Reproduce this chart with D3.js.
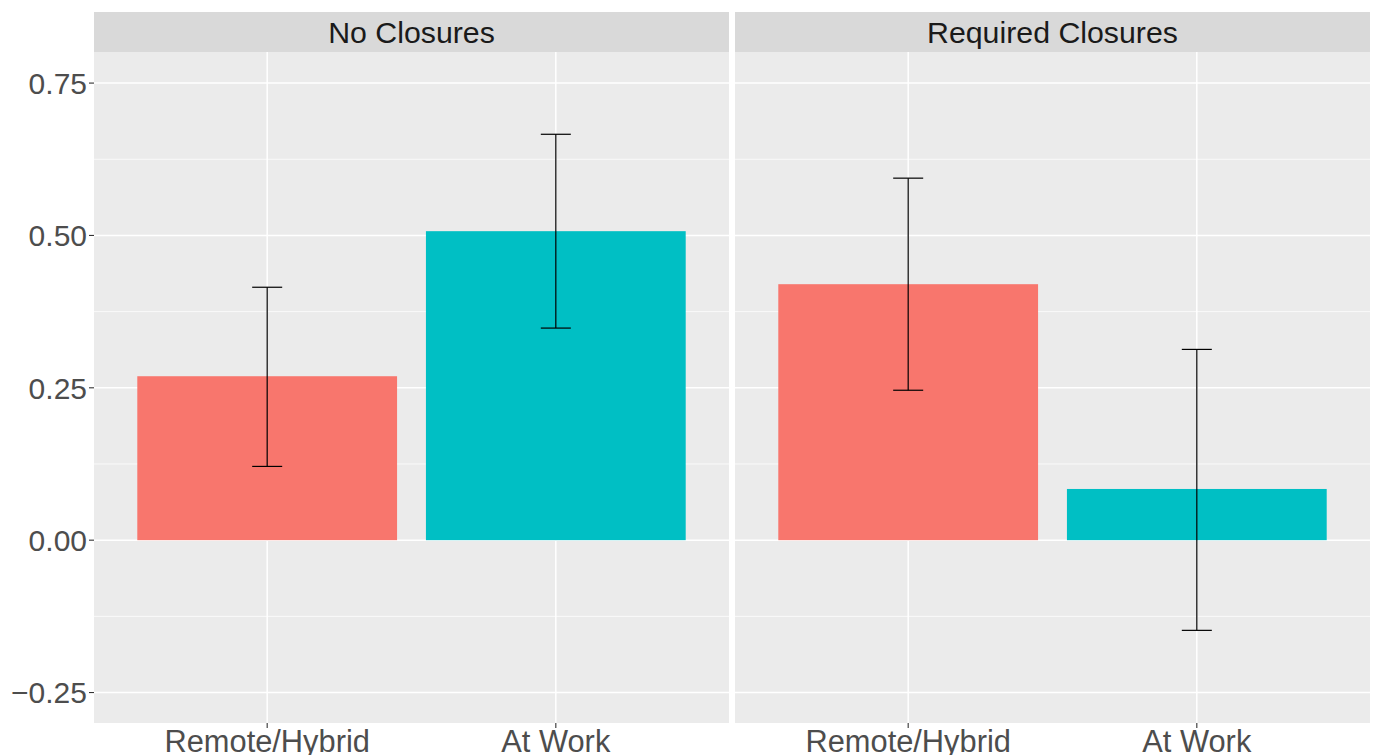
<!DOCTYPE html>
<html>
<head>
<meta charset="utf-8">
<script src="https://cdn.jsdelivr.net/npm/d3@7"></script>
<style>
  body { margin: 0; background: #fff; }
  text { font-family: "Liberation Sans", Arial, Helvetica, sans-serif; }
</style>
</head>
<body>
<div id="chart"></div>
<script>
// data
const panels = ['No Closures', 'Required Closures'];
const categories = ['Remote/Hybrid', 'At Work'];
const estimates = [[0.269, 0.507], [0.420, 0.084]];
const lower = [[0.121, 0.348], [0.246, -0.148]];
const upper = [[0.415, 0.666], [0.594, 0.313]];
const yTicks = [-0.25, 0, 0.25, 0.5, 0.75];
const yMinor = [-0.125, 0.125, 0.375, 0.625];
const colors = ['#F8766D', '#00BFC4'];

const width = 1373, height = 755;
const margin = { top: 52, bottom: 32, left: 94, right: 3 };
const stripHeight = 40;
const panelGap = 6;
const panelWidth = (width - margin.left - margin.right - panelGap) / 2;
const panelHeight = height - margin.top - margin.bottom;

const yScale = d3.scaleLinear().domain([-0.3, 0.801]).range([panelHeight, 0]);
const xScale = d3.scalePoint().domain(categories).range([0, panelWidth]).padding(0.6);
const step = xScale.step();

const svg = d3.select('#chart').append('svg')
    .attr('width', width)
    .attr('height', height);

// y axis labels + ticks
const yAxis = svg.append('g')
    .attr('transform', 'translate(' + margin.left + ',' + margin.top + ')');
yAxis.selectAll('line.tick')
    .data(yTicks).enter().append('line')
    .attr('x1', -5).attr('x2', 0)
    .attr('y1', d => yScale(d)).attr('y2', d => yScale(d))
    .attr('stroke', '#333').attr('stroke-width', 1.1);
yAxis.selectAll('text')
    .data(yTicks).enter().append('text')
    .attr('x', -7)
    .attr('y', d => yScale(d))
    .attr('dy', '0.36em')
    .attr('text-anchor', 'end')
    .attr('font-size', 30)
    .attr('fill', '#4D4D4D')
    .text(d => d3.format('.2f')(d).replace('-', '\u2212'));

panels.forEach(function(name, p) {
    const x0 = margin.left + p * (panelWidth + panelGap);

    // strip
    svg.append('rect')
        .attr('x', x0).attr('y', margin.top - stripHeight)
        .attr('width', panelWidth).attr('height', stripHeight)
        .attr('fill', '#D9D9D9');
    svg.append('text')
        .attr('x', x0 + panelWidth / 2)
        .attr('y', margin.top - stripHeight / 2)
        .attr('dy', '0.36em')
        .attr('text-anchor', 'middle')
        .attr('font-size', 30.3)
        .attr('fill', '#1A1A1A')
        .text(name);

    const g = svg.append('g')
        .attr('transform', 'translate(' + x0 + ',' + margin.top + ')');

    g.append('rect')
        .attr('width', panelWidth).attr('height', panelHeight)
        .attr('fill', '#EBEBEB');

    // grid
    g.selectAll('line.minor')
        .data(yMinor).enter().append('line')
        .attr('x1', 0).attr('x2', panelWidth)
        .attr('y1', d => yScale(d)).attr('y2', d => yScale(d))
        .attr('stroke', '#fff').attr('stroke-width', 0.75);
    g.selectAll('line.major')
        .data(yTicks).enter().append('line')
        .attr('x1', 0).attr('x2', panelWidth)
        .attr('y1', d => yScale(d)).attr('y2', d => yScale(d))
        .attr('stroke', '#fff').attr('stroke-width', 1.5);
    g.selectAll('line.vmajor')
        .data(categories).enter().append('line')
        .attr('x1', d => xScale(d)).attr('x2', d => xScale(d))
        .attr('y1', 0).attr('y2', panelHeight)
        .attr('stroke', '#fff').attr('stroke-width', 1.5);

    const rows = categories.map((c, i) => ({
        cat: c, est: estimates[p][i], lo: lower[p][i], hi: upper[p][i], color: colors[i]
    }));

    // bars
    g.selectAll('rect.bar')
        .data(rows).enter().append('rect')
        .attr('class', 'bar')
        .attr('x', d => xScale(d.cat) - step * 0.45)
        .attr('width', step * 0.9)
        .attr('y', d => yScale(Math.max(0, d.est)))
        .attr('height', d => Math.abs(yScale(d.est) - yScale(0)))
        .attr('fill', d => d.color);

    // error bars
    const capW = step * 0.052;
    const eb = g.selectAll('g.err').data(rows).enter().append('g')
        .attr('stroke', '#000').attr('stroke-width', 1.2).attr('fill', 'none');
    eb.append('line')
        .attr('x1', d => xScale(d.cat)).attr('x2', d => xScale(d.cat))
        .attr('y1', d => yScale(d.lo)).attr('y2', d => yScale(d.hi));
    eb.append('line')
        .attr('x1', d => xScale(d.cat) - capW).attr('x2', d => xScale(d.cat) + capW)
        .attr('y1', d => yScale(d.hi)).attr('y2', d => yScale(d.hi));
    eb.append('line')
        .attr('x1', d => xScale(d.cat) - capW).attr('x2', d => xScale(d.cat) + capW)
        .attr('y1', d => yScale(d.lo)).attr('y2', d => yScale(d.lo));

    // x ticks + labels (cut off at the bottom edge, as in the reference)
    g.selectAll('line.xtick')
        .data(categories).enter().append('line')
        .attr('x1', d => xScale(d)).attr('x2', d => xScale(d))
        .attr('y1', panelHeight).attr('y2', panelHeight + 5)
        .attr('stroke', '#333').attr('stroke-width', 1.1);
    g.selectAll('text.xlab')
        .data(categories).enter().append('text')
        .attr('x', d => xScale(d))
        .attr('y', panelHeight + 28.5)
        .attr('text-anchor', 'middle')
        .attr('font-size', 30.8)
        .attr('fill', '#4D4D4D')
        .text(d => d);
});
</script>
</body>
</html>
